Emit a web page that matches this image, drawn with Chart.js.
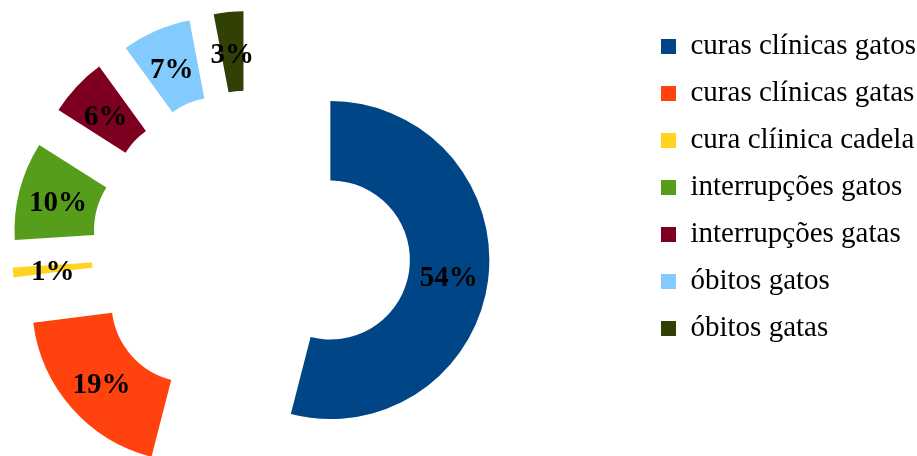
<!DOCTYPE html>
<html>
<head>
<meta charset="utf-8">
<script src="https://cdn.jsdelivr.net/npm/chart.js@4.4.1/dist/chart.umd.min.js"></script>
<style>
  html, body { margin: 0; padding: 0; background: #fff; overflow: hidden; }
  /* a tela é mais larga que a janela: o centro do anel fica à esquerda */
  #grafico { position: absolute; left: -141px; top: 0; }
</style>
</head>
<body>
<canvas id="grafico" width="1058" height="486"></canvas>
<script>
const categorias = ['curas clínicas gatos', 'curas clínicas gatas', 'cura clíinica cadela', 'interrupções gatos', 'interrupções gatas', 'óbitos gatos', 'óbitos gatas'];
const percentagens = [54, 19, 1, 10, 6, 7, 3];
const cores = ['#004586', '#ff420e', '#ffd320', '#579d1c', '#7e0021', '#83caff', '#314004'];

const afastamento = 80; // fatias destacadas do centro
const fonteSerif = "'Liberation Serif', 'Times New Roman', serif";

// desloca cada fatia para fora, ao longo do seu ângulo médio
const explodir = {
    id: 'explodir',
    afterDatasetsUpdate(chart) {
        chart.getDatasetMeta(0).data.forEach(arc => {
            const meio = (arc.startAngle + arc.endAngle) / 2;
            arc.x += Math.cos(meio) * afastamento;
            arc.y += Math.sin(meio) * afastamento;
        });
    }
};

// percentagens no meio de cada fatia
const rotulos = {
    id: 'rotulos',
    afterDatasetsDraw(chart) {
        const ctx = chart.ctx;
        ctx.save();
        ctx.font = 'bold 29px ' + fonteSerif;
        ctx.fillStyle = '#000';
        ctx.textAlign = 'center';
        ctx.textBaseline = 'alphabetic';
        chart.getDatasetMeta(0).data.forEach((arc, i) => {
            const meio = (arc.startAngle + arc.endAngle) / 2;
            const r = (arc.innerRadius + arc.outerRadius) / 2;
            // linha de base um pouco abaixo do centro para os algarismos ficarem centrados
            ctx.fillText(percentagens[i] + '%', arc.x + Math.cos(meio) * r, arc.y + Math.sin(meio) * r + 11);
        });
        ctx.restore();
    }
};

new Chart(document.getElementById('grafico'), {
    type: 'doughnut',
    data: {
        labels: categorias,
        datasets: [{
            data: percentagens,
            backgroundColor: cores,
            borderWidth: 0
        }]
    },
    options: {
        responsive: false,
        animation: false,
        radius: 159,
        cutout: '50%',
        layout: {
            padding: { top: 14, bottom: 0, left: 0, right: 0 }
        },
        plugins: {
            tooltip: { enabled: false },
            legend: {
                position: 'right',
                align: 'start',
                maxWidth: 274,
                labels: {
                    boxWidth: 15,
                    boxHeight: 15,
                    padding: 18,
                    color: '#000',
                    font: { family: fonteSerif, size: 29 }
                }
            }
        }
    },
    plugins: [explodir, rotulos]
});
</script>
</body>
</html>
